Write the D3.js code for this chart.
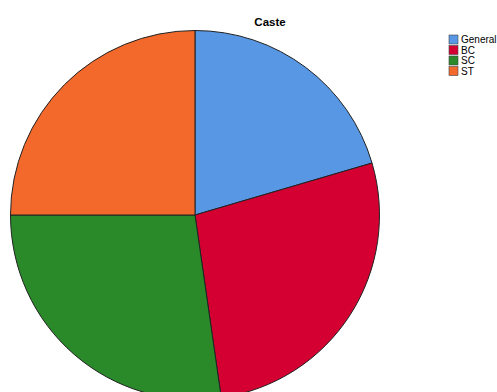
<!DOCTYPE html>
<html>
<head>
<meta charset="utf-8">
<script src="https://cdn.jsdelivr.net/npm/d3@7"></script>
<style>
  body { margin: 0; background: #fff; }
  text { font-family: "Liberation Sans", Arial, sans-serif; }
</style>
</head>
<body>
<div id="wrapper"></div>
<script>
// data
const categories = ['General', 'BC', 'SC', 'ST'];
const counts = [45, 60, 60, 55];
const colors = ['#5797e4', '#d40032', '#2a8a2a', '#f2692b'];

const width = 497;
const height = 392;
const center = { x: 195, y: 215 };
const radius = 184.5;

const svg = d3.select('#wrapper')
  .append('svg')
  .attr('width', width)
  .attr('height', height);

// title
svg.append('text')
  .attr('x', 270)
  .attr('y', 26)
  .attr('text-anchor', 'middle')
  .style('font-weight', 'bold')
  .style('font-size', '11.5px')
  .text('Caste');

const pie = d3.pie().sort(null).value((d) => d)(counts);
const arc = d3.arc().innerRadius(0).outerRadius(radius);

svg.append('g')
  .attr('transform', `translate(${center.x},${center.y})`)
  .selectAll('path')
  .data(pie)
  .join('path')
  .attr('d', arc)
  .attr('fill', (d, i) => colors[i])
  .attr('stroke', '#222')
  .attr('stroke-width', 1);

// legend
const legend = svg.append('g').attr('transform', 'translate(449,35)');
const rows = legend.selectAll('g')
  .data(categories)
  .join('g')
  .attr('transform', (d, i) => `translate(0,${i * 10.5})`);
rows.append('rect')
  .attr('width', 9)
  .attr('height', 9)
  .attr('fill', (d, i) => colors[i])
  .attr('stroke', '#444')
  .attr('stroke-width', 0.6);
rows.append('text')
  .attr('x', 12)
  .attr('y', 8)
  .style('font-size', '10px')
  .text((d) => d);
</script>
</body>
</html>
